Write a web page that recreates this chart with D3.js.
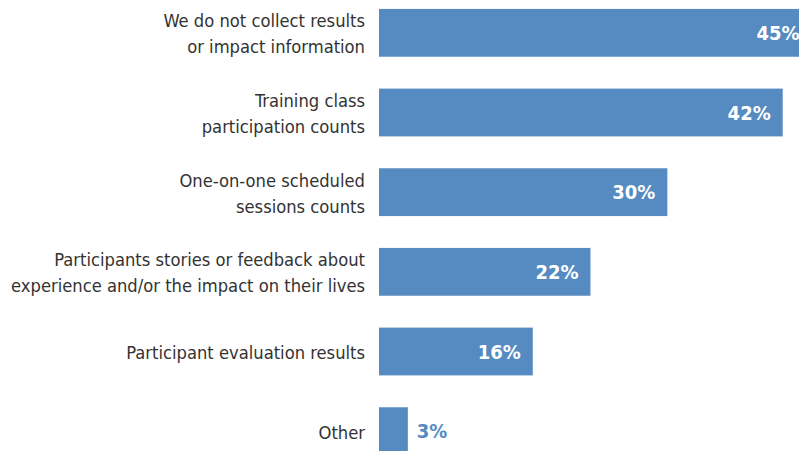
<!DOCTYPE html>
<html>
<head>
<meta charset="utf-8">
<script src="https://cdn.jsdelivr.net/npm/d3@7"></script>
<style>
  html, body { margin: 0; padding: 0; background: #fff; }
  svg { display: block; }
</style>
</head>
<body>
<div id="chart"></div>
<script>
var categories = [
  ["We do not collect results", "or impact information"],
  ["Training class", "participation counts"],
  ["One-on-one scheduled", "sessions counts"],
  ["Participants stories or feedback about", "experience and/or the impact on their lives"],
  ["Participant evaluation results"],
  ["Other"]
];
var values = [45, 42, 30, 22, 16, 3];
var valueLabels = ["45%", "42%", "30%", "22%", "16%", "3%"];

var width = 799, height = 451;
var barLeft = 379;
var barColor = "#558bc1";
var labelFont = "'DejaVu Sans Condensed', 'Liberation Sans Narrow', sans-serif";

var svg = d3.select("#chart").append("svg")
  .attr("width", width)
  .attr("height", height);

var x = d3.scaleLinear().domain([0, 42]).range([barLeft, 782.7]);
var y = d3.scaleBand()
  .domain(d3.range(values.length))
  .range([-7, 471])
  .paddingInner(0.4)
  .paddingOuter(0.2);

var rows = svg.selectAll("g.row")
  .data(values)
  .enter()
  .append("g")
  .attr("class", "row");

rows.append("rect")
  .attr("x", x(0))
  .attr("y", function(d, i){ return y(i); })
  .attr("width", function(d){ return x(d) - x(0); })
  .attr("height", y.bandwidth())
  .attr("fill", barColor);

// category labels, right aligned next to the bars
rows.append("text")
  .attr("text-anchor", "end")
  .attr("fill", "#333")
  .style("font-family", labelFont)
  .style("font-size", "18.2px")
  .each(function(d, i){
    var lines = categories[i];
    var cy = y(i) + y.bandwidth() / 2 + 1;
    var lh = 26;
    var first = cy - (lines.length - 1) * lh / 2;
    d3.select(this).selectAll("tspan")
      .data(lines)
      .enter()
      .append("tspan")
      .attr("x", barLeft - 14)
      .attr("y", function(l, j){ return first + j * lh; })
      .attr("dy", "0.35em")
      .text(function(l){ return l; });
  });

// value labels: inside the bar, or just outside when the bar is short
rows.append("text")
  .attr("x", function(d){ return (x(d) - x(0)) > 60 ? x(d) - 12 : x(d) + 9; })
  .attr("y", function(d, i){ return y(i) + y.bandwidth() / 2; })
  .attr("dy", "0.35em")
  .attr("text-anchor", function(d){ return (x(d) - x(0)) > 60 ? "end" : "start"; })
  .attr("fill", function(d){ return (x(d) - x(0)) > 60 ? "#fff" : barColor; })
  .style("font-family", labelFont)
  .style("font-weight", "bold")
  .style("font-size", "20px")
  .text(function(d, i){ return valueLabels[i]; });
</script>
</body>
</html>
